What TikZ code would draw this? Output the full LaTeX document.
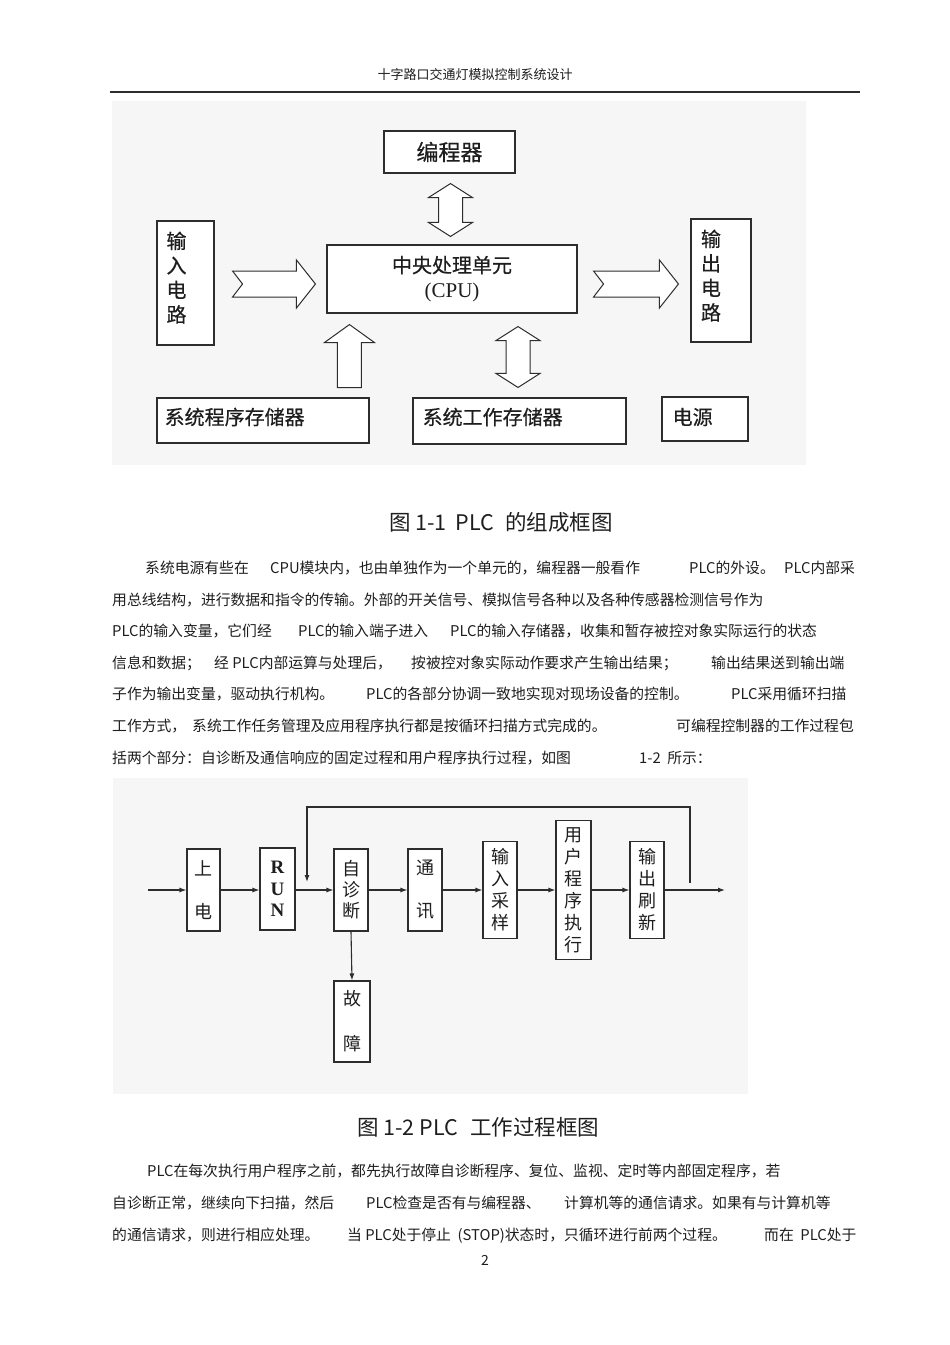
\documentclass[tikz,border=0pt]{standalone}
\usepackage{fontspec}
\setmainfont{Liberation Sans}
\newfontfamily\cjk{Noto Sans CJK SC}
\newfontfamily\cjkb[FakeBold=0.5]{Noto Sans CJK SC}
\newfontfamily\rmlat{Liberation Serif}
\usetikzlibrary{calc}
\usetikzlibrary{positioning}
\usetikzlibrary{arrows.meta}

\definecolor{bgc}{RGB}{246,246,246}
\definecolor{linec}{RGB}{45,45,45}
\definecolor{txtc}{RGB}{30,30,30}

\tikzset{
  cell/.style={draw=linec, line width=1.1pt, fill=white, inner sep=0pt},
  lbl/.style={inner sep=0pt, text=txtc, font=\cjkb\fontsize{20}{24.5}\selectfont},
  vlbl/.style={inner sep=0pt, text=txtc, align=center},
  flow/.style={draw=linec, line width=1.1pt, -{Latex[length=7pt,width=5pt]}},
  para/.style={anchor=base west, inner sep=0pt, text=txtc, font=\cjk\fontsize{14.8}{15}\selectfont},
  figcap/.style={anchor=west, inner sep=0pt, text=txtc, font=\cjk\fontsize{21.5}{22}\selectfont},
  blk/.style={draw=linec, line width=1pt, fill=white, line join=miter},
  fatright/.style={blk, to path={let \p1=(\tikztostart), \p2=(\tikztotarget) in
    (\x1,\y1+13pt) -- (\x2-19pt,\y1+13pt) -- (\x2-19pt,\y1+24pt) -- (\x2,\y1)
    -- (\x2-19pt,\y1-24pt) -- (\x2-19pt,\y1-13pt) -- (\x1,\y1-13pt) -- (\x1+10pt,\y1) -- cycle}},
  fatboth/.style={blk, to path={let \p1=(\tikztostart), \p2=(\tikztotarget) in
    (\x1,\y1) -- (\x1+22pt,\y1-14pt) -- (\x1+12pt,\y1-14pt) -- (\x1+12pt,\y2+14pt)
    -- (\x1+22pt,\y2+14pt) -- (\x1,\y2) -- (\x1-22pt,\y2+14pt) -- (\x1-12pt,\y2+14pt)
    -- (\x1-12pt,\y1-14pt) -- (\x1-22pt,\y1-14pt) -- cycle}},
  fatup/.style={blk, to path={let \p1=(\tikztostart), \p2=(\tikztotarget) in
    (\x1-12pt,\y1) -- (\x1-12pt,\y2-18pt) -- (\x1-25pt,\y2-18pt) -- (\x1,\y2)
    -- (\x1+25pt,\y2-18pt) -- (\x1+12pt,\y2-18pt) -- (\x1+12pt,\y1) -- cycle}}
}

\begin{document}
\begin{tikzpicture}[x=1pt, y=-1pt]
\useasboundingbox (0,0) rectangle (950,1345);
\fill[white] (0,0) rectangle (950,1345);

% page head
\node[inner sep=0pt, text=txtc, font=\cjk\fontsize{13}{13}\selectfont] (head) at (475,75) {十字路口交通灯模拟控制系统设计};
\draw[linec, line width=1.2pt] (110,92) -- (860,92);

% figure 1-1
\fill[bgc] (112,101) rectangle (806,465);
\node[cell, minimum width=131pt, minimum height=42pt, text=txtc, font=\cjkb\fontsize{22}{22}\selectfont] (prog) at (449.5,152) {编程器};
\node[cell, minimum width=250pt, minimum height=68pt, align=center, text=txtc, font=\cjkb\fontsize{20}{25}\selectfont] (cpu) at (452,279) {中央处理单元\\{\rmlat\fontsize{21}{25}\selectfont (CPU)}};
\node[cell, minimum width=57pt, minimum height=124pt] (in) at (185.5,283) {};
\node[lbl, anchor=north, align=center] (intxt) at ($(in.north)+(-9,11)$) {输\\入\\电\\路};
\node[cell, minimum width=60pt, minimum height=123pt] (out) at (721,280.5) {};
\node[lbl, anchor=north, align=center] (outtxt) at ($(out.north)+(-10,11)$) {输\\出\\电\\路};
\node[cell, minimum width=212pt, minimum height=45pt] (rom) at (263,420.5) {};
\node[lbl, anchor=west] (romtxt) at ($(rom.west)+(8,-3.5)$) {系统程序存储器};
\node[cell, minimum width=213pt, minimum height=46pt] (ram) at (519.5,421) {};
\node[lbl, anchor=west] (ramtxt) at ($(ram.west)+(10,-4)$) {系统工作存储器};
\node[cell, minimum width=86pt, minimum height=44pt] (pwr) at (705,419) {};
\node[lbl, anchor=west] (pwrtxt) at ($(pwr.west)+(11,-2)$) {电源};

\draw[fatright] ($(in.east)+(18,1)$) to ($(cpu.west)+(-11,0)$);
\draw[fatright] ($(cpu.east)+(16,5)$) to ($(out.west)+(-12,0)$);
\draw[fatboth] ($(prog.south)+(1,10)$) to ($(prog.south |- cpu.north)+(1,-8)$);
\draw[fatboth] ($(ram.north |- cpu.south)+(-1.5,13)$) to ($(ram.north)+(-1.5,-10)$);
\draw[fatup] ($(cpu.south west)+(23,74)$) to ($(cpu.south west)+(23,11)$);

\node[figcap] (cap1) at (389,522) {图 1-1\hspace{9pt}PLC\hspace{11pt}的组成框图};

% text
\node[para] (t11) at (145,573) {系统电源有些在};
\node[para] (t12) at (270,573) {CPU模块内，也由单独作为一个单元的，编程器一般看作};
\node[para] (t13) at (689,573) {PLC的外设。};
\node[para] (t14) at (784,573) {PLC内部采};
\node[para] (t21) at (112,605) {用总线结构，进行数据和指令的传输。外部的开关信号、模拟信号各种以及各种传感器检测信号作为};
\node[para] (t31) at (112,636) {PLC的输入变量，它们经};
\node[para] (t32) at (298,636) {PLC的输入端子进入};
\node[para] (t33) at (450,636) {PLC的输入存储器，收集和暂存被控对象实际运行的状态};
\node[para] (t41) at (112,668) {信息和数据；};
\node[para] (t42) at (214,668) {经 PLC内部运算与处理后，};
\node[para] (t43) at (411,668) {按被控对象实际动作要求产生输出结果；};
\node[para] (t44) at (711,668) {输出结果送到输出端};
\node[para] (t51) at (112,699) {子作为输出变量，驱动执行机构。};
\node[para] (t52) at (366,699) {PLC的各部分协调一致地实现对现场设备的控制。};
\node[para] (t53) at (731,699) {PLC采用循环扫描};
\node[para] (t61) at (112,731) {工作方式，};
\node[para] (t62) at (192,731) {系统工作任务管理及应用程序执行都是按循环扫描方式完成的。};
\node[para] (t63) at (676,731) {可编程控制器的工作过程包};
\node[para] (t71) at (112,763) {括两个部分：自诊断及通信响应的固定过程和用户程序执行过程，如图};
\node[para] (t72) at (639,763) {1-2\ \ 所示：};

% figure 1-2
\fill[bgc] (113,778) rectangle (748,1094);
\node[cell, vlbl, minimum width=33pt, minimum height=82pt, font=\cjk\fontsize{18}{43}\selectfont] (pwon) at (203.5,890) {上\\电};
\node[cell, vlbl, minimum width=35pt, minimum height=82pt, font=\rmlat\bfseries\fontsize{19}{21.5}\selectfont] (run) at (277.5,889) {R\\U\\N};
\node[cell, vlbl, minimum width=34pt, minimum height=82pt, font=\cjk\fontsize{18}{21}\selectfont] (diag) at (351,890) {自\\诊\\断};
\node[cell, vlbl, minimum width=34pt, minimum height=82pt, font=\cjk\fontsize{18}{43}\selectfont] (comm) at (425,890) {通\\讯};
\node[cell, vlbl, minimum width=34pt, minimum height=97pt, font=\cjk\fontsize{18}{22}\selectfont] (inp) at (500,890) {输\\入\\采\\样};
\node[cell, vlbl, minimum width=35pt, minimum height=139pt, font=\cjk\fontsize{18}{22}\selectfont] (user) at (573.5,890) {用\\户\\程\\序\\执\\行};
\node[cell, vlbl, minimum width=34pt, minimum height=97pt, font=\cjk\fontsize{18}{22}\selectfont] (outr) at (647,890) {输\\出\\刷\\新};
\node[cell, vlbl, minimum width=36pt, minimum height=81pt, font=\cjk\fontsize{18}{45}\selectfont] (fault) at (352,1021.5) {故\\障};

\coordinate (src) at (148,890);
\coordinate (sink) at (725,890);
\coordinate (fbout) at (690,883);
\coordinate (fbin) at (307,882);

\draw[flow] (src) -- (pwon.west);
\foreach \a/\b in {pwon/run, run/diag, diag/comm, comm/inp, inp/user, user/outr}
  \draw[flow] (\a.east |- src) -- (\b.west |- src);
\draw[flow] (outr.east) -- (sink);
\draw[flow] (diag.south) -- (fault.north);
\draw[flow] (fbout) -- ++(0,-76) -| (fbin);

\node[figcap] (cap2) at (357,1127) {图 1-2 PLC\hspace{12pt}工作过程框图};

% text
\node[para] (u11) at (147,1176) {PLC在每次执行用户程序之前，都先执行故障自诊断程序、复位、监视、定时等内部固定程序，若};
\node[para] (u21) at (112,1208) {自诊断正常，继续向下扫描，然后};
\node[para] (u22) at (366,1208) {PLC检查是否有与编程器、};
\node[para] (u23) at (564,1208) {计算机等的通信请求。如果有与计算机等};
\node[para] (u31) at (112,1240) {的通信请求，则进行相应处理。};
\node[para] (u32) at (347,1240) {当 PLC处于停止\ \ (STOP)状态时，只循环进行前两个过程。};
\node[para] (u33) at (764,1240) {而在\ \ PLC处于};

\node[inner sep=0pt, text=txtc, font=\cjk\fontsize{14}{14}\selectfont] (pgno) at (485,1260) {2};
\end{tikzpicture}
\end{document}
